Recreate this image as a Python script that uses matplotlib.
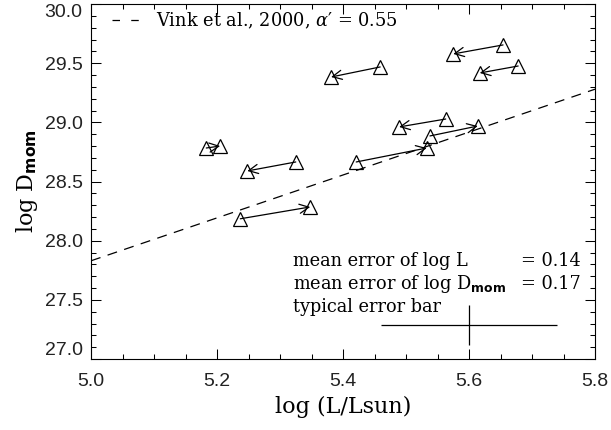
import matplotlib
matplotlib.use("Agg")
import matplotlib.pyplot as plt
from matplotlib.lines import Line2D
from matplotlib.ticker import MultipleLocator, FixedLocator

# log L / log D_mom pairs: each arrow runs from one model to its counterpart
x_start = [5.654, 5.678, 5.459, 5.563, 5.538, 5.421, 5.183, 5.325, 5.237]
y_start = [29.654, 29.476, 29.468, 29.028, 28.885, 28.665, 28.783, 28.665, 28.185]
x_end = [5.575, 5.617, 5.381, 5.489, 5.614, 5.533, 5.205, 5.248, 5.348]
y_end = [29.578, 29.417, 29.383, 28.961, 28.969, 28.783, 28.800, 28.589, 28.285]

# Theoretical wind-momentum relation (Vink et al. 2000, alpha' = 0.55)
vink_x = [5.0, 5.8]
vink_y = [27.83, 29.28]

# Typical error bar
err_x, err_y = 5.6, 27.29
err_logL, err_logD = 0.14, 0.17

x_ticks = [5.0, 5.2, 5.4, 5.6, 5.8]
y_ticks = [27.0, 27.5, 28.0, 28.5, 29.0, 29.5, 30.0]

plt.rcParams["font.family"] = ["DejaVu Serif"]
plt.rcParams["mathtext.fontset"] = "custom"
plt.rcParams["mathtext.rm"] = "DejaVu Serif"
plt.rcParams["mathtext.it"] = "DejaVu Serif:italic"
plt.rcParams["mathtext.bf"] = "DejaVu Sans:bold"

fig = plt.figure(figsize=(6.11, 4.30), dpi=100)
ax = fig.add_axes([91 / 611, 71 / 430, 504 / 611, 355 / 430])

# dashed relation
ax.plot(vink_x, vink_y, color="black", lw=0.9, ls=(0, (8, 6)))

# arrows between the paired models
for xs, ys, xe, ye in zip(x_start, y_start, x_end, y_end):
    ax.annotate("", xy=(xe, ye), xytext=(xs, ys),
                arrowprops=dict(arrowstyle="->,head_length=0.45,head_width=0.22",
                                color="black", lw=0.9, shrinkA=0, shrinkB=0,
                                mutation_scale=15))

# open triangles at both ends
ax.plot(x_start + x_end, y_start + y_end, ls="none", marker="^", ms=9.5,
        mfc="none", mec="black", mew=0.9)

# error bar
ax.errorbar([err_x], [err_y], xerr=[err_logL], yerr=[err_logD], fmt="none",
            ecolor="black", elinewidth=0.9, capsize=0)

# annotation text
fs = 12.8
ax.text(5.32, 27.785, "mean error of log L", fontsize=fs, va="baseline")
ax.text(5.683, 27.785, "= 0.14", fontsize=fs, va="baseline")
ax.text(5.32, 27.590, r"mean error of log D$_{\mathbf{mom}}$", fontsize=fs, va="baseline")
ax.text(5.683, 27.590, "= 0.17", fontsize=fs, va="baseline")
ax.text(5.32, 27.400, "typical error bar", fontsize=fs, va="baseline")

# legend
handle = Line2D([], [], color="black", lw=0.9, ls=(0, (6, 9)))
ax.legend([handle], [r"Vink et al., 2000, $\alpha$′ = 0.55"], loc="upper left",
          bbox_to_anchor=(21 / 504, 1 - 7 / 355), borderaxespad=0, borderpad=0,
          handlelength=1.7, handletextpad=0.75, frameon=False, fontsize=fs)

ax.set_xlim(5.0, 5.8)
ax.set_ylim(27.0, 30.0)
ax.xaxis.set_major_locator(FixedLocator(x_ticks))
ax.yaxis.set_major_locator(FixedLocator(y_ticks))
ax.xaxis.set_minor_locator(MultipleLocator(0.05))
ax.yaxis.set_minor_locator(MultipleLocator(0.1))
ax.set_xticklabels([f"{v:.1f}" for v in x_ticks])
ax.set_yticklabels([f"{v:.1f}" for v in y_ticks])

ax.tick_params(which="both", direction="in", top=True, right=True, width=0.75,
               color="black")
ax.tick_params(which="major", length=7)
ax.tick_params(which="minor", length=3.5)
ax.tick_params(axis="x", pad=10)
ax.tick_params(axis="y", pad=6)
for lab in ax.get_xticklabels() + ax.get_yticklabels():
    lab.set_fontfamily("Liberation Sans")
    lab.set_fontsize(14)
    lab.set_color("#222222")

# keep the end labels of the y axis inside the frame height
yt = ax.yaxis.get_major_ticks()
yt[0].label1.set_verticalalignment("bottom")
yt[-1].label1.set_verticalalignment("top")

for s in ax.spines.values():
    s.set_linewidth(0.8)

ax.set_xlabel("log (L/Lsun)", fontsize=16)
ax.set_ylabel(r"log D$_{\mathbf{mom}}$", fontsize=16)
ax.xaxis.set_label_coords(0.5, -(396 - 359) / 355)
ax.yaxis.set_label_coords(-(91 - 40) / 504, 0.5)

fig.savefig("out.png", dpi=100)
